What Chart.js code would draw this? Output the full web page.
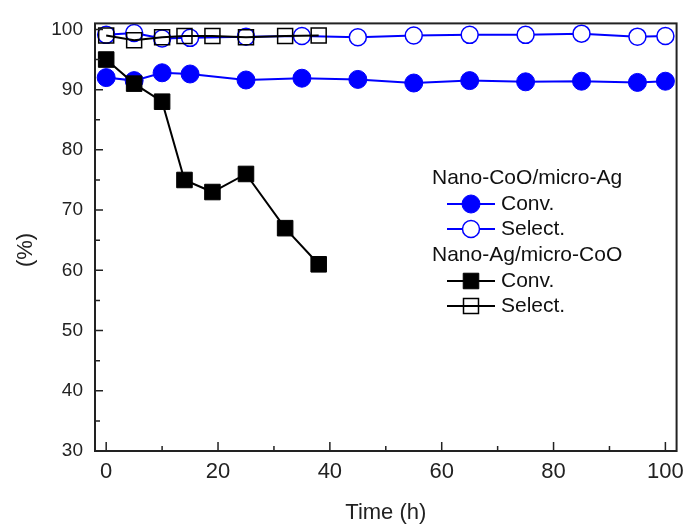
<!DOCTYPE html>
<html>
<head>
<meta charset="utf-8">
<script src="https://cdn.jsdelivr.net/npm/chart.js@4.4.0/dist/chart.umd.min.js"></script>
<style>
  html, body { margin: 0; padding: 0; background: #ffffff; }
  #wrap { width: 692px; height: 526px; }
</style>
</head>
<body>
<div id="wrap"><canvas id="c" width="692" height="526"></canvas></div>
<script>
// Nano-CoO/micro-Ag catalyst
const coAgTime   = [0, 5, 10, 15, 25, 35, 45, 55, 65, 75, 85, 95, 100];
const coAgConv   = [92.0, 91.5, 92.8, 92.6, 91.6, 91.9, 91.7, 91.1, 91.5, 91.3, 91.4, 91.2, 91.4];
const coAgSelect = [99.1, 99.4, 98.5, 98.6, 98.8, 98.9, 98.7, 99.0, 99.1, 99.1, 99.3, 98.8, 98.9];

// Nano-Ag/micro-CoO catalyst
const agCoTime   = [0, 5, 10, 14, 19, 25, 32, 38];
const agCoConv   = [95, 91, 88, 75, 73, 76, 67, 61];
const agCoSelect = [99.0, 98.2, 98.7, 98.9, 98.9, 98.7, 98.9, 99.0];

// Axis ticks
const xMajorTicks = [0, 20, 40, 60, 80, 100];
const xMinorTicks = [10, 30, 50, 70, 90];
const yMajorTicks = [30, 40, 50, 60, 70, 80, 90, 100];
const yMinorTicks = [35, 45, 55, 65, 75, 85, 95];

const FONT = '"Liberation Sans", Arial, sans-serif';
const BLUE = '#0000ff';
const INK = '#222222';

const pts = (xs, ys) => xs.map((x, i) => ({ x: x, y: ys[i] }));

// Frame, inward ticks, grouped legend and y title
const decor = {
  id: 'decor',
  afterDraw(chart) {
    const ctx = chart.ctx;
    const a = chart.chartArea;
    const xs = chart.scales.x, ys = chart.scales.y;
    ctx.save();
    ctx.strokeStyle = INK;
    ctx.lineWidth = 2;
    ctx.strokeRect(a.left, a.top, a.right - a.left, a.bottom - a.top);
    ctx.lineWidth = 1.5;
    ctx.beginPath();
    xMajorTicks.forEach(v => { const p = xs.getPixelForValue(v); ctx.moveTo(p, a.bottom); ctx.lineTo(p, a.bottom - 9); });
    xMinorTicks.forEach(v => { const p = xs.getPixelForValue(v); ctx.moveTo(p, a.bottom); ctx.lineTo(p, a.bottom - 5); });
    yMajorTicks.forEach(v => { const p = ys.getPixelForValue(v); ctx.moveTo(a.left, p); ctx.lineTo(a.left + 8, p); });
    yMinorTicks.forEach(v => { const p = ys.getPixelForValue(v); ctx.moveTo(a.left, p); ctx.lineTo(a.left + 5, p); });
    ctx.stroke();

    // y title
    ctx.fillStyle = INK;
    ctx.font = '22px ' + FONT;
    ctx.textAlign = 'center';
    ctx.textBaseline = 'middle';
    ctx.translate(26, 250);
    ctx.rotate(-Math.PI / 2);
    ctx.fillText('(%)', 0, 0);
    ctx.restore();

    // legend
    ctx.save();
    ctx.font = '21px ' + FONT;
    ctx.fillStyle = '#111111';
    ctx.textAlign = 'left';
    ctx.textBaseline = 'middle';
    const lx0 = 447, lx1 = 495, mx = 471, tx = 501, gx = 432;
    const rows = [
      { type: 'title', text: 'Nano-CoO/micro-Ag', y: 178 },
      { type: 'item', ds: 2, text: 'Conv.', y: 204 },
      { type: 'item', ds: 3, text: 'Select.', y: 229 },
      { type: 'title', text: 'Nano-Ag/micro-CoO', y: 255 },
      { type: 'item', ds: 0, text: 'Conv.', y: 281 },
      { type: 'item', ds: 1, text: 'Select.', y: 306 }
    ];
    rows.forEach(r => {
      if (r.type === 'title') { ctx.fillText(r.text, gx, r.y); return; }
      const d = chart.data.datasets[r.ds];
      ctx.strokeStyle = d.borderColor;
      ctx.lineWidth = d.borderWidth;
      ctx.beginPath(); ctx.moveTo(lx0, r.y); ctx.lineTo(lx1, r.y); ctx.stroke();
      ctx.fillStyle = d.pointBackgroundColor;
      ctx.strokeStyle = d.pointBorderColor;
      ctx.lineWidth = d.pointBorderWidth;
      Chart.helpers.drawPoint(ctx, { pointStyle: d.pointStyle, radius: d.pointRadius, borderWidth: d.pointBorderWidth, rotation: 0 }, mx, r.y);
      ctx.fillStyle = '#111111';
      ctx.fillText(r.text, tx, r.y);
    });
    ctx.restore();
  }
};

new Chart(document.getElementById('c'), {
  type: 'line',
  data: {
    datasets: [
      {
        label: 'Nano-Ag/micro-CoO Conv.',
        data: pts(agCoTime, agCoConv),
        order: 0,
        borderColor: '#000000', borderWidth: 2,
        pointStyle: 'rect', pointRadius: 11,
        pointBackgroundColor: '#000000', pointBorderColor: '#000000', pointBorderWidth: 1
      },
      {
        label: 'Nano-Ag/micro-CoO Select.',
        data: pts(agCoTime, agCoSelect),
        order: 1,
        borderColor: '#000000', borderWidth: 2,
        pointStyle: 'rect', pointRadius: 10.6,
        pointBackgroundColor: 'rgba(0,0,0,0)', pointBorderColor: '#000000', pointBorderWidth: 1.5
      },
      {
        label: 'Nano-CoO/micro-Ag Conv.',
        data: pts(coAgTime, coAgConv),
        order: 2,
        borderColor: BLUE, borderWidth: 2,
        pointStyle: 'circle', pointRadius: 9,
        pointBackgroundColor: BLUE, pointBorderColor: BLUE, pointBorderWidth: 1
      },
      {
        label: 'Nano-CoO/micro-Ag Select.',
        data: pts(coAgTime, coAgSelect),
        order: 3,
        borderColor: BLUE, borderWidth: 2,
        pointStyle: 'circle', pointRadius: 8.5,
        pointBackgroundColor: '#ffffff', pointBorderColor: BLUE, pointBorderWidth: 1.5
      }
    ]
  },
  options: {
    responsive: false,
    animation: false,
    devicePixelRatio: 1,
    clip: false,
    layout: { padding: { left: 0, right: 13, top: 18, bottom: 0 } },
    elements: { line: { tension: 0 } },
    plugins: { legend: { display: false }, tooltip: { enabled: false } },
    scales: {
      x: {
        type: 'linear',
        min: -2, max: 102,
        grid: { display: false, drawTicks: false },
        border: { display: false },
        afterBuildTicks: s => { s.ticks = xMajorTicks.map(v => ({ value: v })); },
        afterFit: s => { s.height = 75; },
        ticks: { color: INK, padding: 8, font: { family: FONT, size: 22 }, maxRotation: 0 },
        title: { display: true, text: 'Time (h)', color: INK, padding: 0, font: { family: FONT, size: 22 } }
      },
      y: {
        type: 'linear',
        min: 30, max: 101,
        grid: { display: false, drawTicks: false },
        border: { display: false },
        afterBuildTicks: s => { s.ticks = yMajorTicks.map(v => ({ value: v })); },
        afterFit: s => { s.width = 95; },
        ticks: { color: INK, padding: 12, font: { family: FONT, size: 19 } }
      }
    }
  },
  plugins: [decor]
});
</script>
</body>
</html>
